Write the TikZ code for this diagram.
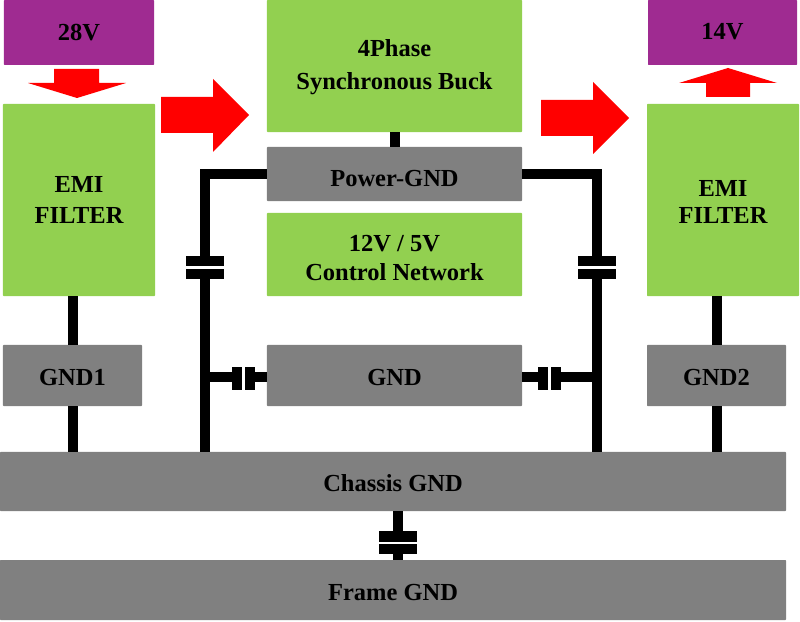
\documentclass[tikz,border=0pt]{standalone}
\usepackage{fontspec}
\setmainfont{Liberation Serif}
\usepackage{xcolor}
\definecolor{srcpurple}{HTML}{9F2B91}
\definecolor{blockgreen}{HTML}{92D050}
\definecolor{gndgray}{HTML}{808080}
\tikzstyle{wire} = [line width=0.3cm,black]
\tikzstyle{flow} = [fill=red,draw=none]

\begin{document}
\begin{tikzpicture}
        [
            x=0.03cm,y=-0.03cm,
            box/.style={rectangle,draw=none,rounded corners=0.5pt,inner sep=0pt,align=center,
                font=\fontsize{20.9}{28}\selectfont\bfseries},
            textbase/.style={text height=#1,text depth=0pt},
            src/.style={box,fill=srcpurple,minimum height=1.95cm},
            block/.style={box,fill=blockgreen},
            gnd/.style={box,fill=gndgray},
            platev/.style={rectangle,fill=black,inner sep=0pt,minimum width=1.14cm,minimum height=0.31cm},
            plateh/.style={rectangle,fill=black,inner sep=0pt,minimum width=0.31cm,minimum height=0.69cm},
        ]
    \useasboundingbox (0,0) rectangle (800,622);

    % sources and filters
    \node[src,textbase=14.5pt,minimum width=4.5cm] (vin) at (79,32.5){28V};
    \node[src,textbase=12.8pt,minimum width=4.47cm] (vout) at (722.5,32.5){14V};
    \node[block,textbase=40.8pt,minimum width=4.56cm,minimum height=5.76cm] (emia) at (79,200){EMI\\[-0.8pt]FILTER};
    \node[block,textbase=40.8pt,minimum width=4.56cm,minimum height=5.76cm] (emib) at (723,200){EMI\\[-4.2pt]FILTER};

    % middle column
    \node[block,textbase=40pt,minimum width=7.65cm,minimum height=3.96cm] (buck) at (394.5,66){4Phase\\Synchronous Buck};
    \node[gnd,textbase=21.5pt,minimum width=7.65cm,minimum height=1.62cm] (pgnd) at (394.5,174){Power-GND};
    \node[block,textbase=44.4pt,minimum width=7.65cm,minimum height=2.49cm] (ctrl) at (394.5,254.5){12V / 5V\\[-3.4pt]Control Network};
    \node[gnd,textbase=17.9pt,minimum width=7.65cm,minimum height=1.83cm] (sgnd) at (394.5,375.5){GND};

    % ground blocks
    \node[gnd,textbase=17.9pt,minimum width=4.17cm,minimum height=1.83cm] (gnda) at (72.5,375.5){GND1};
    \node[gnd,textbase=17.9pt,minimum width=4.17cm,minimum height=1.83cm] (gndb) at (716.5,375.5){GND2};
    \node[gnd,textbase=17.5pt,minimum width=23.58cm,minimum height=1.77cm] (chassis) at (393,481.5){Chassis GND};
    \node[gnd,textbase=18.3pt,minimum width=23.58cm,minimum height=1.8cm] (frame) at (393,590){Frame GND};

    % capacitors
    \node[platev] (capat) at (205,261){};
    \node[platev] (capab) at (205,274){};
    \node[platev] (capbt) at (596.5,261){};
    \node[platev] (capbb) at (596.5,274){};
    \node[plateh] (capcl) at (237,378.5){};
    \node[plateh] (capcr) at (250,378.5){};
    \node[plateh] (capdl) at (543,378.5){};
    \node[plateh] (capdr) at (556,378.5){};
    \node[platev] (capet) at (398,536.5){};
    \node[platev] (capeb) at (398,549){};
    \coordinate (joina) at (205,377);
    \coordinate (joinb) at (596.5,377);

    % wires
    \draw[wire] (buck.south -| pgnd.north) -- (pgnd.north);
    \draw[wire] (emia.south -| gnda.north) -- (gnda.north);
    \draw[wire] (gnda.south) -- (gnda.south |- chassis.north);
    \draw[wire] (emib.south -| gndb.north) -- (gndb.north);
    \draw[wire] (gndb.south) -- (gndb.south |- chassis.north);
    \draw[wire] (pgnd.west) -| (capat.north);
    \draw[wire] (pgnd.east) -| (capbt.north);
    \draw[wire] (capab.south) -- (capab.south |- chassis.north);
    \draw[wire] (capbb.south) -- (capbb.south |- chassis.north);
    \draw[wire] (joina) -- (joina -| capcl.west);
    \draw[wire] (joina -| capcr.east) -- (joina -| sgnd.west);
    \draw[wire] (joinb -| sgnd.east) -- (joinb -| capdl.west);
    \draw[wire] (joinb -| capdr.east) -- (joinb);
    \draw[wire] (capet.north |- chassis.south) -- (capet.north);
    \draw[wire] (capeb.south) -- (capeb.south |- frame.north);

    % power flow
    \fill[flow] (54,69) -- (99,69) -- (99,83) -- (126,83) -- (77,98) -- (28,83) -- (54,83) -- cycle;
    \fill[flow] (706,97) -- (750,97) -- (750,83) -- (777,83) -- (728,68) -- (679,83) -- (706,83) -- cycle;
    \fill[flow] (161,97) -- (213,97) -- (213,79) -- (249,115) -- (213,152) -- (213,133) -- (161,133) -- cycle;
    \fill[flow] (541,100) -- (593,100) -- (593,82) -- (629,118) -- (593,154) -- (593,136) -- (541,136) -- cycle;
\end{tikzpicture}
\end{document}
